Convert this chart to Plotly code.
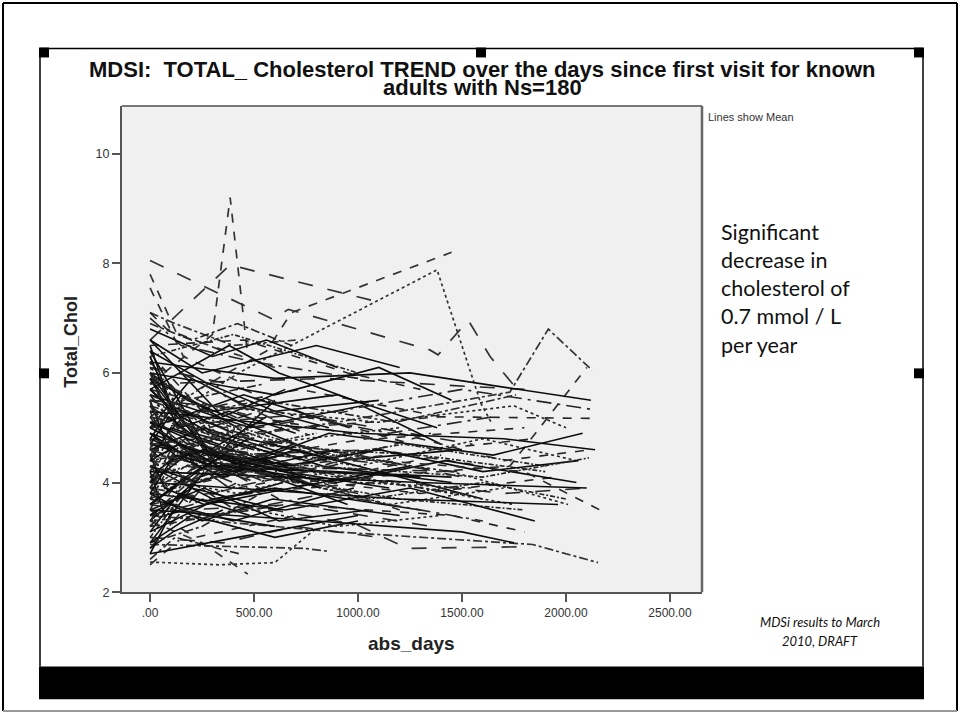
import plotly.graph_objects as go

# ---------------- data ----------------
x_tick_values = [0, 500, 1000, 1500, 2000, 2500]
x_tick_labels = [".00", "500.00", "1000.00", "1500.00", "2000.00", "2500.00"]
y_tick_values = [2, 4, 6, 8, 10]
y_tick_labels = ["2", "4", "6", "8", "10"]

# days since first visit for each patient (one list per patient)
patient_days = [
    [0, 590, 665, 1345, 1385, 1530, 1635, 1765],
    [0, 385, 1070],
    [0, 560, 680, 1450],
    [0, 450, 1380, 1590, 1640],
    [0, 900, 1730, 1915, 2125],
    [0, 700, 1730, 2100],
    [0, 300, 385, 470],
    [0, 130, 600],
    [0, 160, 450],
    [0, 120, 400, 700],
    [0, 330, 600, 800],
    [0, 740, 850],
    [0, 250, 470],
    [0, 995, 1236, 1830],
    [0, 900, 1840, 2154],
    [0, 60, 140],
    [0, 310], [0, 280, 700], [0, 300, 900], [0, 260], [0, 330, 1100],
    [0, 290, 620], [0, 320, 1450], [0, 300, 800], [0, 270, 1300], [0, 310, 560],
    [0, 300, 950], [0, 340, 1500], [0, 295, 600], [0, 305, 1200], [0, 260, 1000],
    [0, 150, 420], [0, 90, 380, 760], [0, 200, 640], [0, 120], [0, 180, 550, 1250],
    [0, 400, 980], [0, 60, 250], [0, 230, 700, 1600], [0, 350, 850], [0, 140, 480],
    [0, 520, 1150, 1700], [0, 80, 300], [0, 260, 620, 1050], [0, 190], [0, 330, 720, 1400],
    [0, 110, 600], [0, 450, 1300, 1900], [0, 210, 500], [0, 600, 1200], [0, 70, 360],
    [0, 380, 780, 1550], [0, 240, 690], [0, 500, 1000, 1600, 2050], [0, 160, 410], [0, 300, 900, 1380],
    [0, 130, 520], [0, 420, 1080], [0, 90], [0, 270, 750, 1200, 1800], [0, 350, 650],
    [0, 560, 1350], [0, 200, 460, 860], [0, 310, 990, 1700, 2100], [0, 100, 330], [0, 700, 1450, 2010],
    [0, 250, 580], [0, 180, 900, 1500], [0, 440, 820], [0, 140, 390, 1150], [0, 650, 1250, 1850],
    [0, 60, 280, 500], [0, 480, 1020, 1400], [0, 220, 700], [0, 360, 860, 1650, 2080], [0, 120, 520, 950],
    [0, 300, 600, 1300], [0, 80, 220], [0, 540, 1180, 1760], [0, 260, 830, 1450], [0, 150, 450, 800],
    [0, 400, 1100, 1600], [0, 200, 560], [0, 330, 740, 1220, 1900], [0, 110, 350], [0, 620, 1300, 1950],
    [0, 280, 600, 1100], [0, 170, 700, 1350], [0, 450, 960], [0, 90, 420, 1000, 1550], [0, 240, 480],
    [0, 380, 900, 1420, 2050], [0, 130, 300], [0, 500, 1100, 1800], [0, 210, 650, 1150], [0, 350, 780],
    [0, 70, 260, 640], [0, 560, 1200, 1700, 2120], [0, 190, 470, 900], [0, 320, 1000, 1500], [0, 100, 400],
    [0, 420, 850, 1300, 1750], [0, 160, 550], [0, 270, 680, 1250], [0, 600, 1150, 1650], [0, 230, 520, 900, 1400],
    [0, 140, 380, 700], [0, 480, 1050, 1600, 2000], [0, 90, 330, 760], [0, 350, 800, 1350, 1850], [0, 200, 620],
    [0, 520, 980, 1450], [0, 300, 650, 1100, 1600, 2060], [0, 110, 280], [0, 400, 930, 1500], [0, 250, 590, 1200],
    [0, 900, 1500, 2115], [0, 700, 1400, 2130], [0, 1000, 1700, 2140], [0, 800, 1600, 2110], [0, 650, 1300, 2100],
    [0, 1100, 1800, 2163], [0, 1200, 1962], [0, 850, 1550, 1800], [0, 600, 1250, 2120], [0, 1100, 1750, 2000],
    [0, 200, 420, 680], [0, 300, 560, 900], [0, 150, 500, 1000], [0, 450, 950, 1300], [0, 250, 800, 1200],
    [0, 400, 1000], [0, 600, 1100, 1450], [0, 80, 350], [0, 380, 620, 1050],
    [0, 350, 700, 1100], [0, 200, 600, 1000], [0, 500, 900, 1400], [0, 120, 430], [0, 800, 1500, 1750],
    [0, 300, 850, 1600], [0, 650, 1450, 1800], [0, 420, 1000],
    [0, 50, 210, 450], [0, 100, 260, 520], [0, 40, 180, 330], [0, 150, 290, 610], [0, 70, 240, 470],
    [0, 120, 350, 580], [0, 60, 200, 400], [0, 90, 310, 690], [0, 180, 420, 750], [0, 110, 270, 530],
    [0, 30, 170, 380], [0, 140, 330, 640], [0, 80, 230, 510], [0, 200, 480, 820], [0, 60, 160, 290],
    [0, 130, 400, 900], [0, 90, 250, 610], [0, 170, 360, 700], [0, 40, 150, 430], [0, 100, 300, 560],
]

# mean Total_Chol (mmol/L) at each of those days
patient_chol = [
    [8.05, 6.98, 7.16, 6.42, 6.33, 6.96, 6.3, 5.7],
    [6.6, 7.97, 7.32],
    [5.2, 6.4, 7.1, 8.2],
    [5.0, 6.05, 7.88, 5.45, 5.1],
    [4.6, 5.1, 5.65, 6.8, 6.05],
    [4.4, 4.0, 4.3, 6.1],
    [5.8, 6.7, 9.2, 6.3],
    [7.8, 6.7, 6.1],
    [7.55, 6.3, 5.8],
    [7.1, 6.9, 6.5, 6.6],
    [2.55, 2.5, 2.54, 3.17],
    [2.87, 2.8, 2.75],
    [3.3, 2.9, 2.33],
    [3.9, 3.23, 2.8, 2.83],
    [3.4, 3.1, 2.87, 2.54],
    [2.5, 2.7, 2.95],
    [5.9, 4.4], [6.2, 4.5, 5.1], [3.2, 4.3, 4.0], [2.9, 4.2], [5.4, 4.5, 4.6],
    [3.6, 4.4, 3.7], [6.4, 4.3, 4.1], [3.0, 4.5, 4.9], [5.1, 4.3, 4.1], [3.4, 4.4, 4.0],
    [4.9, 4.5, 3.6], [2.8, 4.3, 4.2], [6.0, 4.4, 5.5], [3.9, 4.6, 5.0], [5.6, 4.4, 3.8],
    [4.8, 5.6, 5.0], [5.2, 4.7, 3.9, 4.2], [4.1, 3.6, 4.4], [6.5, 5.2], [4.5, 5.3, 4.8, 4.3],
    [3.7, 3.3, 3.9], [5.8, 6.1, 5.3], [4.3, 4.0, 4.6, 3.7], [5.5, 5.0, 4.4], [3.1, 3.8, 3.4],
    [4.7, 4.2, 3.6, 3.9], [6.3, 5.6, 4.9], [3.5, 3.9, 3.3, 3.5], [4.0, 4.9], [5.0, 5.4, 5.7, 5.2],
    [2.7, 3.5, 3.2], [4.4, 4.7, 4.5, 4.2], [5.7, 4.9, 4.6], [3.8, 4.3, 3.5], [4.2, 3.4, 3.7],
    [6.1, 5.8, 5.2, 4.7], [3.3, 4.1, 4.7], [5.3, 4.6, 4.3, 4.8, 4.4], [4.6, 4.1, 3.5], [5.9, 5.3, 5.6, 5.0],
    [3.9, 4.8, 5.3], [4.9, 3.8, 4.0], [5.5, 4.6], [4.1, 4.4, 4.0, 3.7, 3.5], [6.6, 5.2, 5.7],
    [3.6, 4.0, 4.9], [5.0, 5.9, 5.4, 5.0], [3.4, 3.7, 4.1, 3.8, 3.9], [4.4, 5.0, 4.7], [5.2, 4.6, 4.2, 3.6],
    [2.9, 3.2, 3.9], [6.0, 5.5, 4.4, 4.6], [4.7, 4.5, 3.9], [5.4, 4.6, 4.2, 4.5], [3.8, 3.5, 3.9, 3.3],
    [4.0, 4.5, 5.1, 4.8], [5.6, 5.0, 5.4, 4.7], [3.5, 3.0, 3.4], [4.8, 4.2, 4.9, 4.5, 4.9], [6.2, 5.7, 5.0, 5.3],
    [4.3, 3.7, 3.9, 3.5], [3.2, 3.6, 4.3], [5.1, 5.5, 5.1, 5.6], [4.6, 5.0, 4.3, 4.0], [5.8, 6.0, 5.4, 4.8],
    [3.7, 4.4, 4.6, 4.3], [4.9, 4.4, 5.2], [5.3, 4.8, 4.4, 4.7, 4.3], [2.8, 3.1, 3.5], [4.5, 4.1, 3.8, 4.1],
    [6.4, 5.8, 5.3, 5.5], [3.9, 3.5, 3.6, 3.2], [5.0, 5.6, 5.0], [4.2, 4.8, 4.5, 4.0, 3.9], [5.6, 5.2, 4.3],
    [4.7, 4.3, 4.0, 4.4, 4.0], [3.3, 4.0, 4.6], [5.7, 5.2, 4.8, 5.0], [4.0, 4.6, 4.2, 3.9], [6.0, 5.1, 4.6],
    [4.5, 3.9, 3.6, 4.0], [4.8, 4.5, 4.9, 4.4, 4.6], [3.6, 4.1, 4.8, 4.4], [5.2, 4.9, 4.5, 4.1], [6.3, 5.4, 4.9],
    [4.1, 3.8, 4.2, 3.9, 3.6], [5.0, 5.5, 5.8], [3.1, 3.6, 3.9, 4.3], [5.5, 5.3, 4.9, 5.2], [4.4, 4.0, 4.5, 4.1, 4.5],
    [5.9, 5.0, 5.3, 4.9], [3.9, 4.2, 3.7, 4.0, 3.7], [4.7, 5.2, 4.5, 4.2], [5.4, 5.0, 5.2, 4.6, 4.8], [3.4, 3.9, 3.5],
    [4.6, 4.0, 4.4, 4.2], [5.1, 4.7, 4.3, 4.6, 4.2, 4.4], [6.1, 5.4, 5.8], [4.3, 4.6, 4.1, 3.8], [3.8, 3.3, 3.7, 3.4],
    [5.0, 5.3, 5.7, 5.34], [4.7, 5.0, 5.2, 5.17], [5.3, 4.9, 4.8, 4.6], [4.5, 4.3, 4.1, 4.45], [4.2, 4.1, 4.0, 3.9],
    [4.6, 4.4, 4.2, 3.5], [4.0, 3.7, 3.6], [5.8, 5.9, 5.75, 5.7], [6.2, 5.9, 6.0, 5.5], [5.5, 5.1, 5.4, 5.0],
    [6.9, 6.6, 6.9, 6.5], [6.8, 6.3, 6.6, 6.1], [7.0, 6.5, 6.2, 5.9], [6.5, 6.6, 6.0, 5.7], [6.6, 6.0, 6.5, 6.1],
    [6.3, 6.7, 6.0], [6.0, 5.6, 6.1, 5.5], [7.1, 6.8, 6.4], [5.7, 6.5, 6.0, 5.4],
    [3.0, 2.9, 3.2, 3.0], [2.9, 3.4, 3.0, 3.3], [3.3, 3.5, 3.2, 3.4], [2.6, 3.0, 2.7], [3.5, 3.3, 3.1, 2.9],
    [3.6, 3.4, 3.8, 3.3], [3.2, 3.6, 3.4, 3.1], [2.7, 3.0, 3.4],
    [5.3, 4.9, 4.5, 4.8], [3.8, 4.4, 4.6, 4.2], [4.6, 5.1, 4.7, 4.3], [5.7, 5.2, 4.9, 4.5], [3.5, 4.0, 4.3, 4.6],
    [4.9, 4.5, 4.1, 4.4], [6.2, 5.5, 5.0, 4.7], [4.3, 3.9, 4.2, 4.0], [5.1, 4.8, 4.4, 4.1], [3.9, 4.5, 4.2, 3.8],
    [5.5, 5.0, 4.6, 4.9], [4.4, 4.7, 4.3, 4.5], [3.7, 4.2, 4.8, 4.4], [5.0, 4.6, 4.3, 3.9], [6.0, 5.4, 5.1, 4.7],
    [4.1, 4.5, 4.2, 4.6], [5.4, 4.9, 4.4, 4.2], [3.6, 4.1, 4.5, 4.3], [4.8, 4.2, 4.6, 5.0], [5.6, 5.1, 4.6, 4.3],
]

# ---------------- styling helpers ----------------
W, H = 960, 721


def px(x):
    return x / W


def py(y):
    return 1 - y / H


special_dash = ["longdash", "longdash", "dash", "dot", "dashdot", "dash", "dash", "dash",
                "dash", "dashdot", "dot", "dashdot", "dash", "longdash", "dashdot", "dash"]
cycle_dash = ["solid", "dash", "solid", "longdash", "solid", "dot", "dashdot", "solid",
              "longdashdot", "dash", "solid", "5px,2px,2px,2px"]

fig = go.Figure()
for i, (d, c) in enumerate(zip(patient_days, patient_chol)):
    if i < len(special_dash):
        dash = special_dash[i]
        color = "#333333"
        width = 1.7
    else:
        dash = cycle_dash[i % len(cycle_dash)]
        color = "#0d0d0d" if dash == "solid" else "#262626"
        width = 1.6
    fig.add_trace(go.Scatter(x=d, y=c, mode="lines",
                             line=dict(color=color, width=width, dash=dash),
                             showlegend=False, hoverinfo="skip"))

plot_left, plot_right, plot_top, plot_bottom = 122, 702, 107, 598

fig.update_layout(
    width=W, height=H,
    margin=dict(l=0, r=0, t=0, b=0),
    paper_bgcolor="white",
    plot_bgcolor="#F0F0F0",
    font=dict(family="Liberation Sans, Arial, sans-serif", color="#333"),
    xaxis=dict(domain=[px(plot_left), px(plot_right)], range=[-135, 2654],
               tickvals=x_tick_values, ticktext=x_tick_labels,
               ticks="outside", ticklen=8, tickwidth=2, tickcolor="#555",
               showline=True, linecolor="#555", linewidth=2,
               showgrid=False, zeroline=False,
               tickfont=dict(size=12, color="#333")),
    yaxis=dict(domain=[py(plot_bottom), py(plot_top)], range=[2, 10.87],
               tickvals=y_tick_values, ticktext=y_tick_labels,
               ticks="outside", ticklen=8, tickwidth=2, tickcolor="#555",
               showline=True, linecolor="#555", linewidth=2,
               showgrid=False, zeroline=False,
               tickfont=dict(size=12.5, color="#333")),
)

shapes = []
# plot box top/right border
shapes.append(dict(type="line", xref="paper", yref="paper",
                   x0=px(plot_left), x1=px(plot_right), y0=py(plot_top), y1=py(plot_top),
                   line=dict(color="#777", width=2)))
shapes.append(dict(type="line", xref="paper", yref="paper",
                   x0=px(plot_right), x1=px(plot_right), y0=py(plot_top), y1=py(plot_bottom),
                   line=dict(color="#666", width=2.5)))
# outer slide border
for (x0, y0, x1, y1, col) in [(3, 3, 957, 3, "black"), (3, 3, 3, 718, "black"),
                              (957, 3, 957, 718, "black"), (3, 718, 957, 718, "#999")]:
    shapes.append(dict(type="line", xref="paper", yref="paper",
                       x0=px(x0), x1=px(x1), y0=py(y0), y1=py(y1),
                       line=dict(color=col, width=2)))
# inner picture frame
for (x0, y0, x1, y1) in [(40, 49, 923, 49), (40, 49, 40, 673), (923, 49, 923, 673)]:
    shapes.append(dict(type="line", xref="paper", yref="paper",
                       x0=px(x0), x1=px(x1), y0=py(y0), y1=py(y1),
                       line=dict(color="black", width=1.5)))
# black bar at bottom
shapes.append(dict(type="rect", xref="paper", yref="paper",
                   x0=px(39), x1=px(924), y0=py(706), y1=py(673),
                   fillcolor="black", line=dict(width=0)))
# selection handles
for (cx, cy) in [(44, 53), (481, 53), (919, 53), (44, 377), (919, 377)]:
    shapes.append(dict(type="rect", xref="paper", yref="paper",
                       x0=px(cx - 5), x1=px(cx + 5), y0=py(cy + 5), y1=py(cy - 5),
                       fillcolor="black", line=dict(width=0)))
fig.update_layout(shapes=shapes)

ann = []
title_font = dict(family="Liberation Sans, Arial, sans-serif", size=22, color="#111", weight="bold")
ann.append(dict(x=px(482), y=py(70), xref="paper", yref="paper", showarrow=False,
                text="MDSI:  TOTAL_ Cholesterol TREND over the days since first visit for known",
                font=title_font, xanchor="center", yanchor="middle"))
ann.append(dict(x=px(482), y=py(88), xref="paper", yref="paper", showarrow=False,
                text="adults with Ns=180", font=title_font, xanchor="center", yanchor="middle"))
ann.append(dict(x=px(706), y=py(118), xref="paper", yref="paper", showarrow=False,
                text="Lines show Mean", xanchor="left", yanchor="middle",
                font=dict(size=11, color="#333")))
ann.append(dict(x=px(71), y=py(345), xref="paper", yref="paper", showarrow=False,
                text="Total_Chol", textangle=-90, xanchor="center", yanchor="middle",
                font=dict(size=18, color="#222", weight="bold")))
ann.append(dict(x=px(411), y=py(650), xref="paper", yref="paper", showarrow=False,
                text="abs_days", xanchor="center", yanchor="middle",
                font=dict(size=19, color="#222", weight="bold")))
side_lines = ["Significant", "decrease in", "cholesterol of", "0.7 mmol / L", "per year"]
for k, t in enumerate(side_lines):
    ann.append(dict(x=px(719), y=py(234 + 28.5 * k), xref="paper", yref="paper", showarrow=False,
                    text=t, xanchor="left", yanchor="middle",
                    font=dict(family="Lato, Open Sans, sans-serif", size=21.5, color="#111")))
for k, t in enumerate(["MDSi results to March", "2010, DRAFT"]):
    ann.append(dict(x=px(820), y=py(628 + 19 * k), xref="paper", yref="paper", showarrow=False,
                    text="<i>" + t + "</i>", xanchor="center", yanchor="middle",
                    font=dict(family="Lato, Open Sans, sans-serif", size=13, color="#111")))
fig.update_layout(annotations=ann)

fig.write_html("out.html", config={"displayModeBar": False},
               post_script="document.body.style.margin='0px';")
